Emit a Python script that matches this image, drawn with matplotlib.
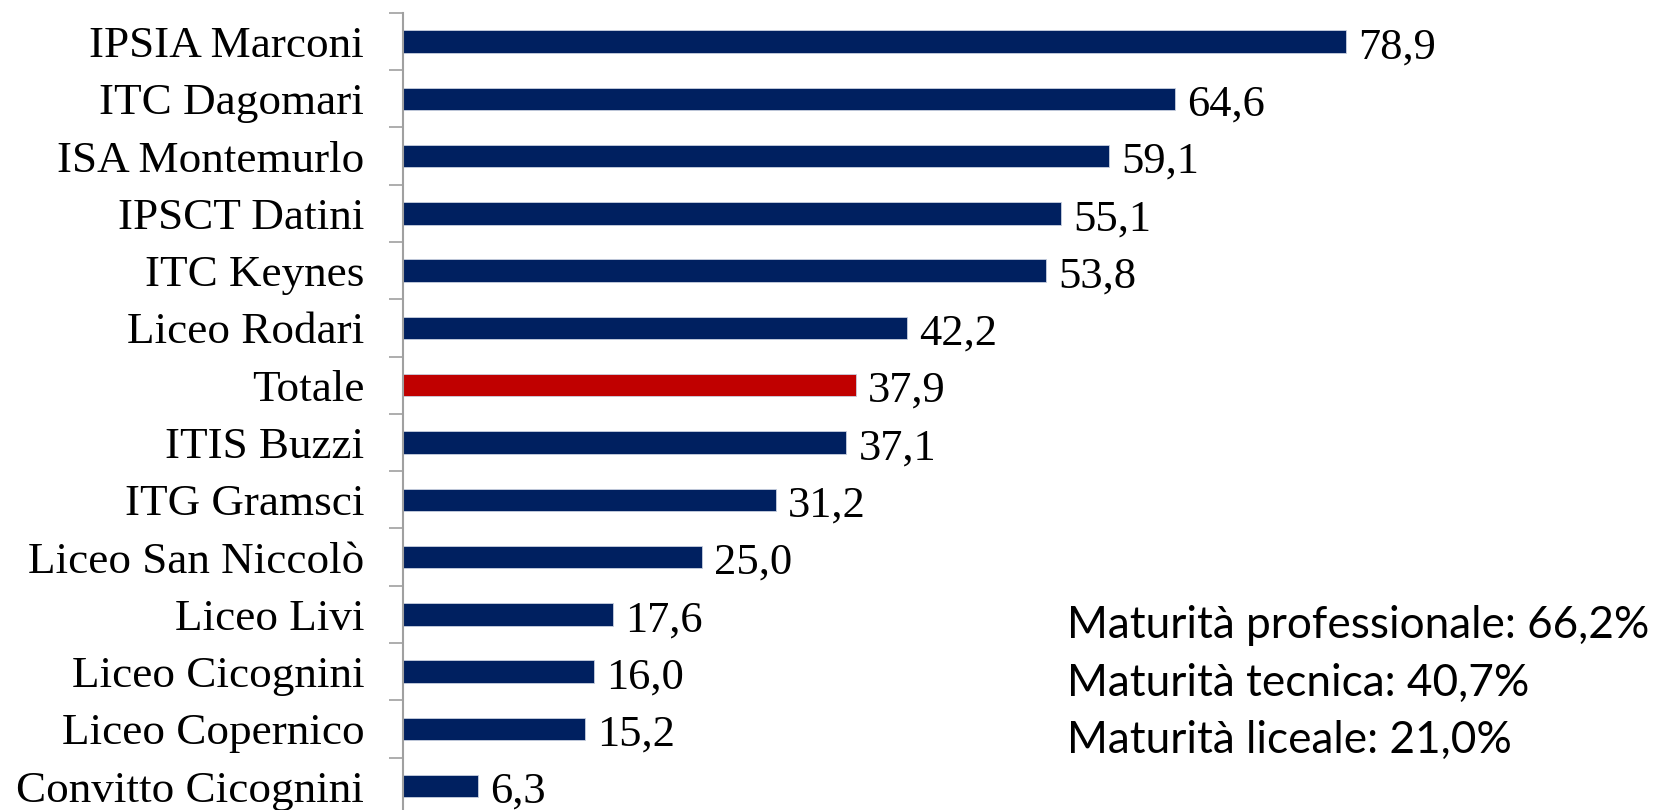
import matplotlib
matplotlib.use("Agg")
import matplotlib.pyplot as plt
import numpy as np

categories = ["IPSIA Marconi", "ITC Dagomari", "ISA Montemurlo", "IPSCT Datini",
              "ITC Keynes", "Liceo Rodari", "Totale", "ITIS Buzzi", "ITG Gramsci",
              "Liceo San Niccolò", "Liceo Livi", "Liceo Cicognini",
              "Liceo Copernico", "Convitto Cicognini"]
values = [78.9, 64.6, 59.1, 55.1, 53.8, 42.2, 37.9, 37.1, 31.2, 25.0, 17.6, 16.0, 15.2, 6.3]
highlight = "Totale"
notes = ["Maturità professionale: 66,2%", "Maturità tecnica: 40,7%", "Maturità liceale: 21,0%"]

navy = "#002060"
red = "#C00000"

fig = plt.figure(figsize=(16.56, 8.10), dpi=100)
ax = fig.add_axes([0.2434, -0.006, 0.7216, 0.9901])

y = np.arange(len(categories))
colors = [red if c == highlight else navy for c in categories]
ax.barh(y, values, height=0.39, color=colors, edgecolor="#C8D0E0", linewidth=0.6)

ax.set_xlim(0, 100)
ax.set_ylim(len(categories) - 0.5, -0.5)

for yi, v in zip(y, values):
    ax.text(v + 1.0, yi + 0.1, f"{v:.1f}".replace(".", ","), va="center", ha="left",
            fontsize=32, family="Liberation Serif", color="black")

ax.set_yticks(y)
ax.set_yticklabels(categories, fontsize=32.5, family="Liberation Serif")
ax.set_yticks(np.arange(-0.5, len(categories) + 0.5, 1), minor=True)
ax.tick_params(axis="y", which="major", length=0, pad=28)
ax.tick_params(axis="y", which="minor", length=10, width=1.2, color="#A0A0A0", direction="out")
ax.set_xticks([])

for s in ["top", "right", "bottom"]:
    ax.spines[s].set_visible(False)
ax.spines["left"].set_color("#A0A0A0")
ax.spines["left"].set_linewidth(1.5)

for i, t in enumerate(notes):
    fig.text(1067 / 1656, 1 - (626 + 57 * i) / 810, t, ha="left", va="center",
             fontsize=31.8, family="Lato", color="black")

fig.savefig("out.png", dpi=100)
